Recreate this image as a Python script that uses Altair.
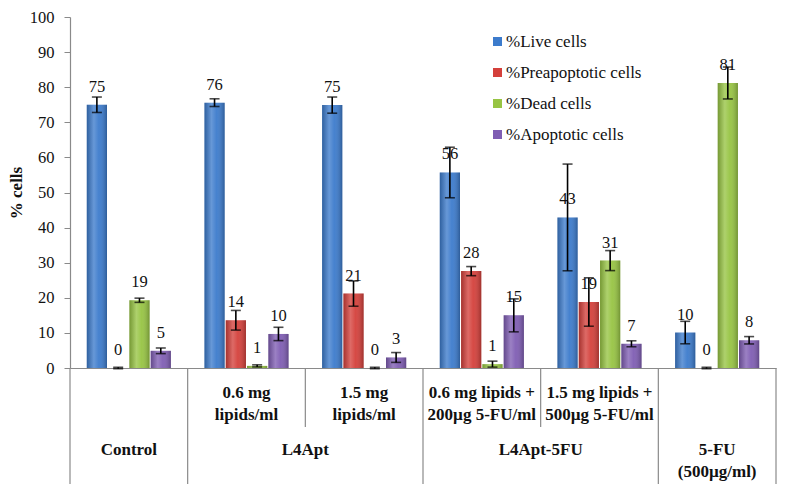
import altair as alt
import pandas as pd

groups = ["Control", "0.6 mg lipids/ml", "1.5 mg lipids/ml",
          "0.6 mg lipids + 200µg 5-FU/ml", "1.5 mg lipids + 500µg 5-FU/ml",
          "5-FU (500µg/ml)"]
series = ["%Live cells", "%Preapoptotic cells", "%Dead cells", "%Apoptotic cells"]
colors = ["#3c7bcc", "#d4403b", "#97c443", "#7f5db3"]

live = [75.0, 75.6, 74.9, 55.7, 42.9, 10.1]
live_err = [2.2, 1.1, 2.3, 7.2, 15.2, 3.2]
pre = [0.0, 13.6, 21.2, 27.6, 18.8, 0.0]
pre_err = [0.2, 2.8, 3.6, 1.3, 6.9, 0.2]
dead = [19.3, 0.6, 0.0, 1.1, 30.6, 81.2]
dead_err = [0.6, 0.3, 0.2, 0.85, 2.85, 4.55]
apo = [4.9, 9.7, 3.0, 15.0, 6.9, 7.9]
apo_err = [0.8, 1.9, 1.4, 4.7, 0.85, 1.05]

sub_labels = ["", "0.6 mg\nlipids/ml", "1.5 mg\nlipids/ml",
              "0.6 mg lipids +\n200µg 5-FU/ml", "1.5 mg lipids +\n500µg 5-FU/ml", ""]
main_center = [("Control", groups[0]), ("5-FU\n(500µg/ml)", groups[5])]
main_edge = [("L4Apt", groups[2]), ("L4Apt-5FU", groups[4])]
full_lines = [groups[0], groups[1], groups[3], groups[5]]
short_lines = [groups[2], groups[4]]
y_ticks = [0, 10, 20, 30, 40, 50, 60, 70, 80, 90, 100]

vals = [live, pre, dead, apo]
errs = [live_err, pre_err, dead_err, apo_err]
rows = []
for j, s in enumerate(series):
    for i, g in enumerate(groups):
        v, e = vals[j][i], errs[j][i]
        rows.append({"group": g, "series": s, "value": v, "lo": v - e, "hi": v + e})
df = pd.DataFrame(rows)

FONT = "Liberation Serif"
H = 351
W = 706
LINE = "#8a8a8a"
xscale = alt.Scale(domain=groups, paddingInner=0, paddingOuter=0)
xoff = alt.XOffset("series:N", scale=alt.Scale(domain=series, paddingInner=0.05, paddingOuter=0.787))
yscale = alt.Scale(domain=[0, 100])

XAX = alt.Axis(labels=False, ticks=False, title="", domainColor=LINE, domainWidth=1.2)
YAX = alt.Axis(title="% cells", values=y_ticks, labelOverlap=False, grid=False,
               domainColor=LINE, domainWidth=1.2, tickColor=LINE,
               tickSize=6, labelFont=FONT, labelFontSize=16.5, labelColor="#111",
               labelPadding=10, titleFont=FONT, titleFontSize=17,
               titleFontWeight="bold", titleColor="#111", titlePadding=4)


def X(bp=None):
    if bp is None:
        return alt.X("group:N", scale=xscale, axis=XAX, title="")
    return alt.X("group:N", scale=xscale, axis=XAX, title="", bandPosition=bp)


def Y(f):
    return alt.Y(f, scale=yscale, axis=YAX, title="% cells")


base = alt.Chart(df)

bars = base.mark_bar().encode(
    x=X(), xOffset=xoff, y=Y("value:Q"),
    color=alt.Color("series:N", scale=alt.Scale(domain=series, range=colors), title=None,
                    legend=alt.Legend(orient="none", legendX=419, legendY=16,
                                      symbolType="square", symbolSize=81,
                                      symbolStrokeWidth=0, labelFont=FONT,
                                      labelFontSize=17, labelColor="#111",
                                      rowPadding=13, labelOffset=0)),
)

shade = base.mark_bar(color=alt.Gradient(
    gradient="linear", x1=0, x2=1, y1=0, y2=0,
    stops=[alt.GradientStop(color="rgba(0,0,0,0.22)", offset=0),
           alt.GradientStop(color="rgba(255,255,255,0.22)", offset=0.35),
           alt.GradientStop(color="rgba(255,255,255,0.05)", offset=0.6),
           alt.GradientStop(color="rgba(0,0,0,0.25)", offset=1)])).encode(
    x=X(), xOffset=xoff, y=Y("value:Q"))

err = base.mark_rule(color="black", strokeWidth=1.6).encode(
    x=X(), xOffset=xoff, y=Y("lo:Q"), y2="hi:Q")
cap_lo = base.mark_tick(color="black", size=10, thickness=1.6).encode(
    x=X(), xOffset=xoff, y=Y("lo:Q"))
cap_hi = base.mark_tick(color="black", size=10, thickness=1.6).encode(
    x=X(), xOffset=xoff, y=Y("hi:Q"))

labels = base.mark_text(font=FONT, fontSize=16.5, color="#111", dy=-18, baseline="middle").encode(
    x=X(), xOffset=xoff, y=Y("value:Q"), text=alt.Text("value:Q", format=".0f"))

full_df = pd.DataFrame({"group": full_lines})
short_df = pd.DataFrame({"group": short_lines})
vl_full = alt.Chart(full_df).mark_rule(color=LINE, strokeWidth=1.2).encode(
    x=X(0), y=alt.value(H), y2=alt.value(H + 116))
vl_right = alt.Chart(pd.DataFrame({"group": [groups[-1]]})).mark_rule(color=LINE, strokeWidth=1.2).encode(
    x=X(1), y=alt.value(H), y2=alt.value(H + 116))
vl_short = alt.Chart(short_df).mark_rule(color=LINE, strokeWidth=1.2).encode(
    x=X(0), y=alt.value(H), y2=alt.value(H + 59))

sub_df = pd.DataFrame({"group": groups, "label": sub_labels})
sub_txt = alt.Chart(sub_df).mark_text(font=FONT, fontSize=17, fontWeight="bold", color="#111",
                                      lineBreak="\n", lineHeight=22, baseline="middle").encode(
    x=X(), y=alt.value(H + 25), text="label:N")

mc_df = pd.DataFrame(main_center, columns=["label", "group"])
mc_txt = alt.Chart(mc_df).mark_text(font=FONT, fontSize=17, fontWeight="bold", color="#111",
                                    lineBreak="\n", lineHeight=22, baseline="top").encode(
    x=X(), y=alt.value(H + 74), text="label:N")
me_df = pd.DataFrame(main_edge, columns=["label", "group"])
me_txt = alt.Chart(me_df).mark_text(font=FONT, fontSize=17, fontWeight="bold", color="#111",
                                    baseline="top").encode(
    x=X(0), y=alt.value(H + 74), text="label:N")

chart = alt.layer(bars, shade, err, cap_lo, cap_hi, labels,
                  vl_full, vl_right, vl_short, sub_txt, mc_txt, me_txt).properties(
    width=W, height=H,
    autosize=alt.AutoSizeParams(type="none"),
    padding={"left": 62, "top": 9, "right": 4, "bottom": 116},
).configure(font=FONT, background="white", view=alt.ViewConfig(strokeWidth=0))

chart.save("out.html", embed_options={"renderer": "svg", "actions": False})
